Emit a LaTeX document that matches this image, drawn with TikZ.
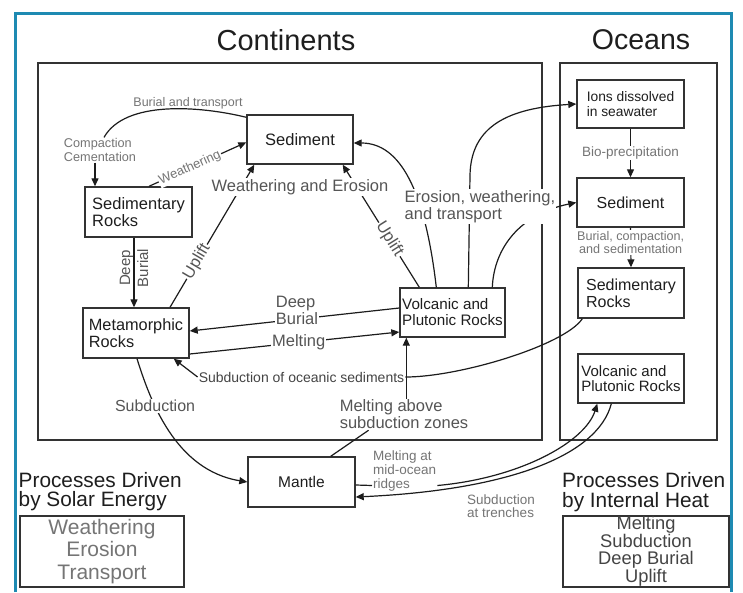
\documentclass[tikz,border=0pt]{standalone}
\usepackage{fontspec}
\setmainfont{Liberation Sans}
\usetikzlibrary{arrows.meta,calc}
\definecolor{framec}{HTML}{1E8AB2}
\definecolor{linec}{HTML}{1C1C1C}
\definecolor{boxc}{HTML}{333333}
\definecolor{txtc}{HTML}{1E1E1E}
\definecolor{lblc}{HTML}{555555}
\definecolor{lgray}{HTML}{757575}
\definecolor{dgray}{HTML}{444444}
\newcommand\myfs[2]{\fontsize{#1}{#2}\selectfont}
\begin{document}
\begin{tikzpicture}[x=1pt,y=-1pt,
 box/.style={draw=boxc, line width=1.4pt, inner sep=0pt, text=txtc},
 conn/.style={draw=linec, line width=1.2pt},
 arr/.style={conn, -{Triangle[length=8pt,width=7pt]}},
 lbl/.style={fill=white, inner sep=1pt, text=lblc},
 area/.style={draw=boxc, line width=1.4pt},
]
\useasboundingbox (0,0) rectangle (743,592);
\fill[white] (0,0) rectangle (743,592);
% blue frame
\draw[framec, line width=3pt] (15,592) -- (15,13) -- (731,13) -- (731,592);
% areas
\draw[area] (38,63) rectangle (542,440);
\draw[area] (560,63) rectangle (717,440);
\node[font=\myfs{29}{30}, text=txtc] (tCont) at (286,40) {Continents};
\node[font=\myfs{28.5}{30}, text=txtc] (tOce) at (641,40) {Oceans};

% boxes
\node[box, minimum width=106pt, minimum height=49pt, font=\myfs{16.5}{18}] (sedC) at (300,139.5) {Sediment};
\node[box, minimum width=107pt, minimum height=50pt, align=left, font=\myfs{16.5}{17}] (sedR) at (138.5,212) {Sedimentary\\Rocks};
\node[box, minimum width=106pt, minimum height=50pt, align=left, font=\myfs{16.3}{16.5}] (metam) at (136,333) {Metamorphic\\Rocks};
\node[box, minimum width=105pt, minimum height=49pt, align=left, font=\myfs{15.2}{16}] (volC) at (452.5,312.5) {Volcanic and\\Plutonic Rocks};
\node[box, minimum width=107pt, minimum height=48pt, align=left, font=\myfs{13.8}{14.5}] (ions) at (630.5,104) {Ions dissolved\\in seawater};
\node[box, minimum width=107pt, minimum height=49pt, font=\myfs{16}{17}] (sedO) at (630.5,202.5) {Sediment};
\node[box, minimum width=106pt, minimum height=50pt, align=left, font=\myfs{16}{17}] (sedRO) at (631,293) {Sedimentary\\Rocks};
\node[box, minimum width=106pt, minimum height=49pt, align=left, font=\myfs{15}{15.5}] (volO) at (631,378.5) {Volcanic and\\Plutonic Rocks};
\node[box, minimum width=107pt, minimum height=50pt, font=\myfs{15.5}{16}] (mantle) at (301.5,482) {Mantle};

% Burial and transport / compaction
\node[text=lgray, align=left, font=\myfs{12.7}{13.5}, inner sep=1pt] (cc) at (100,150) {Compaction\\Cementation};
\node[text=lgray, font=\myfs{12.5}{13}, inner sep=1pt] (bt) at (188,103) {Burial and transport};
\draw[conn] ([yshift=-3pt]sedC.north west) .. controls (200,106) and (125,100) .. ([xshift=4pt]cc.north);
\draw[arr] ([xshift=-5pt]cc.south) -- ([xshift=-5pt]cc.south |- sedR.north);

% Weathering
\draw[arr] ([xshift=10.5pt]sedR.north) -- node[lbl, text=lgray, sloped, pos=0.42, font=\myfs{13}{14}] {Weathering} ([yshift=-28pt]sedC.north west);

% Deep burial vertical
\draw[arr] ([xshift=-4.5pt]sedR.south) -- ([xshift=-2pt]metam.north);
\node[rotate=90, align=center, text=lblc, font=\myfs{15}{18}, inner sep=0pt] (dbv) at (134,268) {Deep\\Burial};

% Uplift lines
\draw[arr] ([xshift=34pt]metam.north) -- node[lbl, sloped, pos=0.32, font=\myfs{16.5}{17}] {Uplift} ([xshift=8pt]sedC.south west);
\draw[arr] ([xshift=20pt]volC.north west) -- node[lbl, sloped, pos=0.39, font=\myfs{16.5}{17}] {Uplift} ([xshift=-11pt]sedC.south east);

% Volcanic -> sediments / ions
\draw[arr] ([xshift=37pt]volC.north west) .. controls (425,190) and (400,143) .. ([yshift=-3.5pt]sedC.east);
\draw[arr] ([xshift=69pt]volC.north west) -- (470,175) .. controls (471,125) and (510,108) .. (ions.west);
\draw[arr] ([xshift=93pt]volC.north west) .. controls (494,248) and (520,214) .. (sedO.west);

% Deep burial & melting (horizontal)
\draw[arr] ([yshift=4.5pt]volC.west) -- ([yshift=2pt]metam.east);
\draw[arr] ([yshift=-21pt]metam.east) -- node[lbl, pos=0.52, font=\myfs{16.5}{17}] {Melting} ([yshift=-19.5pt]volC.west);

% Subduction of oceanic sediments
\node[lbl, text=dgray, font=\myfs{14}{15}] (subOS) at (301.5,377) {Subduction of oceanic sediments};
\draw[conn] ([xshift=5pt]sedRO.south west) .. controls (565,345) and (460,377) .. (subOS.east);
\draw[arr] (subOS.west) -- ([xshift=-16pt]metam.south east);

% Subduction to mantle
\draw[arr] ([xshift=1pt]metam.south) .. controls (150,400) and (175,470) .. node[lbl, pos=0.33, font=\myfs{16}{17}] {Subduction} (mantle.west);

% Melting above subduction zones
\node[lbl, align=left, font=\myfs{16.5}{17}] (mabove) at (404,414.5) {Melting above\\subduction zones};
\draw[conn] ([xshift=-25pt]mantle.north east) -- ([xshift=30pt]mabove.south west);
\coordinate (vb) at ([xshift=7pt]volC.south west);
\draw[arr] (mabove.north -| vb) -- (vb);

% mid-ocean ridges
\node[text=lgray, align=left, font=\myfs{13.5}{14}, inner sep=1pt, anchor=west] (mor) at (372,471) {Melting at\\mid-ocean\\ridges};
\draw[conn] ([yshift=-3pt]mantle.east) -- ([yshift=7pt]mor.south west);
\draw[arr] ([yshift=7pt]mor.south east) .. controls (520,478) and (585,442) .. ([xshift=20pt]volO.south west);

% trenches
\draw[arr] ([xshift=34pt]volO.south west) .. controls (598,455) and (510,490) .. ([yshift=-15pt]mantle.east);
\node[text=lgray, align=left, font=\myfs{13.5}{13.5}, inner sep=1pt] (trn) at (501,506) {Subduction\\at trenches};

% ocean column
\draw[arr] (ions.south) -- node[lbl, text=lgray, font=\myfs{13.5}{14}] {Bio-precipitation} (sedO.north);
\draw[arr] (sedO.south) -- node[lbl, text=lgray, pos=0.37, align=center, font=\myfs{12.6}{13.5}] {Burial, compaction,\\and sedimentation} (sedRO.north);

% covering labels
\node[lbl, font=\myfs{16.5}{17}] (we) at (300,187) {Weathering and Erosion};
\node[lbl, anchor=west, align=left, font=\myfs{16.5}{17}] (ewt) at (403.5,206.5) {Erosion, weathering,\\and transport};
\node[lbl, align=left, font=\myfs{16.5}{17}] (dbh) at (297,310.5) {Deep\\Burial};

% bottom legends
\node[anchor=north west, align=left, inner sep=0pt, font=\myfs{20.8}{19}, text=txtc] (pSolar) at (18.5,472) {Processes Driven\\by Solar Energy};
\node[draw=boxc, line width=1.3pt, minimum width=164pt, minimum height=71pt, align=center, text=lgray, font=\myfs{21}{22.5}, inner sep=0pt] (solarBox) at (102,551.5) {Weathering\\Erosion\\Transport};
\node[anchor=north west, align=left, inner sep=0pt, font=\myfs{20.8}{20.5}, text=txtc] (pHeat) at (562,472) {Processes Driven\\by Internal Heat};
\node[draw=boxc, line width=1.3pt, minimum width=166pt, minimum height=71pt, align=center, text=dgray, font=\myfs{18.3}{16.7}, inner sep=0pt] (heatBox) at (646,551.5) {Melting\\Subduction\\Deep Burial\\Uplift};
% re-draw blue frame on top
\draw[framec, line width=3pt] (731,440) -- (731,592);
\end{tikzpicture}
\end{document}
